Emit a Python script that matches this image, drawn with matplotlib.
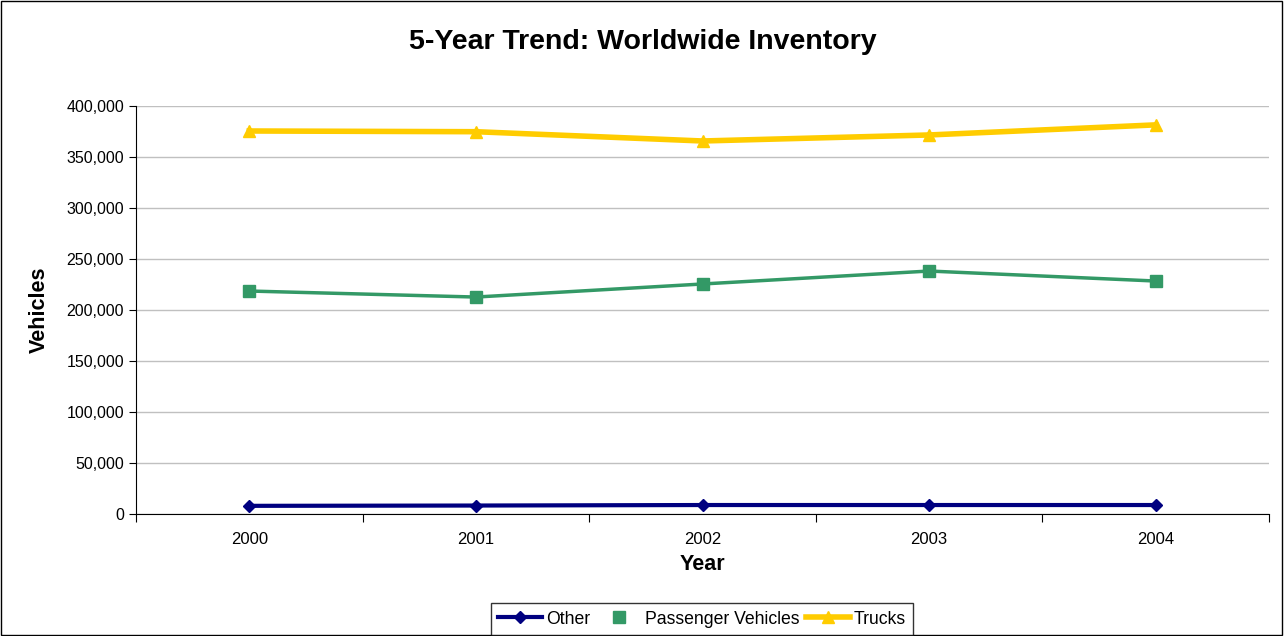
import matplotlib
matplotlib.use('Agg')
import matplotlib.pyplot as plt
import matplotlib.ticker as ticker
from matplotlib.lines import Line2D
from matplotlib.patches import Rectangle

years = ['2000', '2001', '2002', '2003', '2004']
other = [8000, 8300, 8800, 8800, 8800]
passenger = [218600, 212700, 225500, 238200, 228400]
trucks = [375500, 374800, 365700, 371600, 381500]

plt.rcParams['font.family'] = ['Liberation Sans', 'DejaVu Sans']

fig = plt.figure(figsize=(12.85, 6.36), dpi=100)
fig.patches.append(Rectangle((0.001, 0.001), 0.997, 0.997, transform=fig.transFigure,
                             fill=False, ec='black', lw=1))
ax = fig.add_axes([136 / 1285, 122 / 636, 1133 / 1285, 408 / 636])

x = range(len(years))
ax.plot(x, trucks, c='#FFCC00', lw=4, marker='^', ms=9, zorder=3)
ax.plot(x, passenger, c='#339966', lw=2.5, marker='s', ms=8, zorder=3)
ax.plot(x, other, c='#000080', lw=3, marker='D', ms=6, zorder=3)

ax.set_xlim(-0.5, 4.5)
ax.set_ylim(0, 400000)
ax.yaxis.set_major_locator(ticker.MultipleLocator(50000))
ax.yaxis.set_major_formatter(ticker.FuncFormatter(lambda v, pos: '{:,.0f}'.format(v)))
ax.set_xticks([i - 0.5 for i in range(6)])
ax.set_xticklabels([])
ax.set_xticks(list(x), minor=True)
ax.set_xticklabels(years, minor=True)
ax.tick_params(axis='x', which='minor', length=0, pad=13, labelsize=12)
ax.tick_params(axis='x', which='major', length=6, direction='out')
ax.tick_params(axis='y', length=5, direction='out', labelsize=11.5)
ax.grid(axis='y', color='#c0c0c0', lw=1)
ax.set_axisbelow(True)
for s in ['top', 'right']:
    ax.spines[s].set_visible(False)
ax.spines['left'].set_color('black')
ax.spines['bottom'].set_color('black')

ax.set_xlabel('Year', fontsize=15.5, fontweight='bold', labelpad=5)
ax.set_ylabel('Vehicles', fontsize=15.5, fontweight='bold', labelpad=12)
fig.text(0.5, 1 - 42 / 636, '5-Year Trend: Worldwide Inventory', ha='center', va='center',
         fontsize=20.5, fontweight='bold')

handles = [Line2D([], [], c='#000080', lw=3, marker='D', ms=6),
           Line2D([], [], c='#339966', lw=0, marker='s', ms=8),
           Line2D([], [], c='#FFCC00', lw=4, marker='^', ms=9)]
leg = fig.legend(handles, ['Other', 'Passenger Vehicles', 'Trucks'], loc='center',
                 bbox_to_anchor=(702 / 1285, 1 - 619 / 636), ncol=3, fontsize=12.7,
                 frameon=True, fancybox=False, edgecolor='black', handlelength=2.5,
                 handletextpad=0.2, columnspacing=0.4, borderpad=0.4, borderaxespad=0)
leg.get_frame().set_linewidth(1)

fig.savefig('out.png', dpi=100)
